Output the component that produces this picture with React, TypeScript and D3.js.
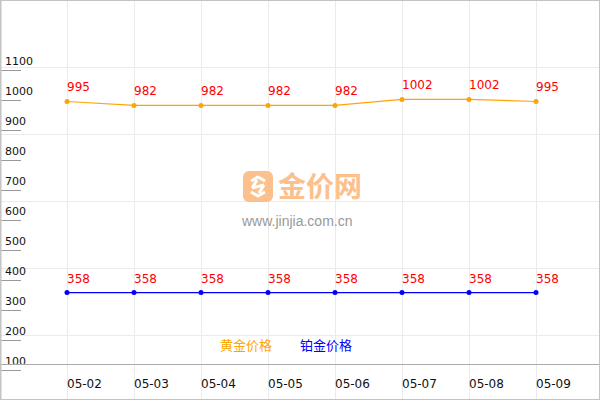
// @ts-nocheck
import * as d3 from "d3";

const dates = ["05-02", "05-03", "05-04", "05-05", "05-06", "05-07", "05-08", "05-09"];
const goldPrices = [995, 982, 982, 982, 982, 1002, 1002, 995];
const platinumPrices = [358, 358, 358, 358, 358, 358, 358, 358];
const yTicks = [100, 200, 300, 400, 500, 600, 700, 800, 900, 1000, 1100];
const seriesNames = ["黄金价格", "铂金价格"];

const width = 600;
const height = 400;
const axisY = 364;
const font = "'DejaVu Sans', Verdana, sans-serif";

const App = () => {
    const xScale = d3.scalePoint().domain(dates).range([67, 536]);
    // 0.3px per unit, zero sits at the bottom edge
    const yScale = d3.scaleLinear().domain([0, 1333.33]).range([height, 0]);

    const line = d3
        .line()
        .x((d, i) => xScale(dates[i]))
        .y((d) => yScale(d));

    const series = [
        { name: seriesNames[0], values: goldPrices, color: "#ffa500" },
        { name: seriesNames[1], values: platinumPrices, color: "#0000ff" },
    ];

    // grid lines every 67px, independent of the tick labels
    const grid = d3.range(67, 600, 67);

    return (
        <div style={{ position: "fixed", left: 0, top: 0 }}>
            <svg width={width} height={height} style={{ display: "block" }}>
                <rect x={0} y={0} width={width} height={height} fill="#fff" />
                {grid.map((g) => (
                    <line key={`v-${g}`} x1={g + 0.5} x2={g + 0.5} y1={0} y2={height} stroke="#ebebeb" />
                ))}
                {grid
                    .filter((g) => g < axisY)
                    .map((g) => (
                        <line key={`h-${g}`} x1={0} x2={width} y1={g + 0.5} y2={g + 0.5} stroke="#ebebeb" />
                    ))}

                {/* watermark */}
                <g>
                    <rect x={243} y={171} width={30} height={31} rx={6} fill="#fcc08c" />
                    <path
                        d="M251,181 L258,177 L265,181 M265,192 L258,196 L251,192 M252,188 L264,185 M252,188 L257,180 M264,185 L259,193"
                        fill="none"
                        stroke="#fff"
                        strokeWidth={3}
                        strokeLinejoin="round"
                    />
                    <text x={278} y={197} fontSize={28} fontWeight="bold" fill="#fcc08c" fontFamily="'Noto Sans CJK SC', sans-serif">
                        金价网
                    </text>
                    <text x={242} y={226} fontSize={14} fill="#999" fontFamily="'Liberation Sans', Arial, sans-serif">
                        www.jinjia.com.cn
                    </text>
                </g>

                {/* y ticks */}
                {yTicks.map((t) => (
                    <g key={`t-${t}`}>
                        <line x1={1} x2={21} y1={Math.round(yScale(t)) + 0.5} y2={Math.round(yScale(t)) + 0.5} stroke="#999" />
                        <text x={5} y={yScale(t) - 5} fontSize={11} fill="#111" fontFamily={font}>
                            {t}
                        </text>
                    </g>
                ))}

                {/* axes and border */}
                <line x1={0} x2={width} y1={axisY + 0.5} y2={axisY + 0.5} stroke="#aaa" />
                <rect x={0.5} y={0.5} width={width - 1} height={height - 1} fill="none" stroke="#c4c4c4" />
                <line x1={1} x2={1} y1={0} y2={height} stroke="#c4c4c4" />

                {dates.map((d) => (
                    <text key={`x-${d}`} x={xScale(d)} y={388} fontSize={12} fill="#111" fontFamily={font}>
                        {d}
                    </text>
                ))}

                {series.map((s) => (
                    <g key={s.name}>
                        <path d={line(s.values)} fill="none" stroke={s.color} strokeWidth={1.2} />
                        {s.values.map((v, i) => (
                            <g key={`${s.name}-${i}`}>
                                <circle cx={xScale(dates[i])} cy={yScale(v)} r={2.5} fill={s.color} />
                                <text x={xScale(dates[i])} y={yScale(v) - 10} fontSize={12} fill="#ff0000" fontFamily={font}>
                                    {v}
                                </text>
                            </g>
                        ))}
                    </g>
                ))}

                {/* legend */}
                {series.map((s, i) => (
                    <text
                        key={`lg-${s.name}`}
                        x={220 + i * 80}
                        y={350}
                        fontSize={13}
                        fill={s.color}
                        fontFamily="'Noto Sans CJK SC', sans-serif"
                    >
                        {s.name}
                    </text>
                ))}
            </svg>
        </div>
    );
};

export default App;
